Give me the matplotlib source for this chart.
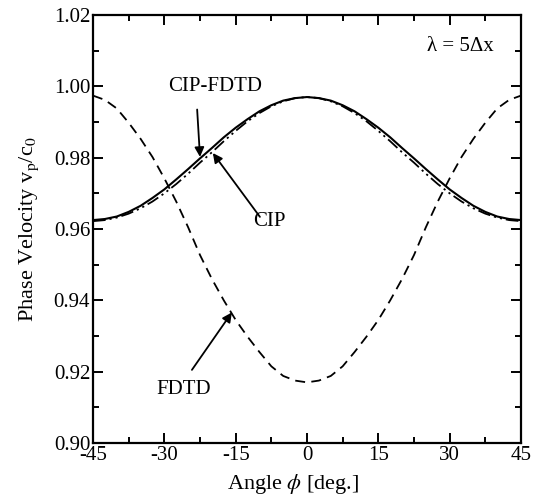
import matplotlib
matplotlib.use("Agg")
import matplotlib.pyplot as plt
from matplotlib.ticker import MultipleLocator

plt.rcParams['font.family'] = ['Liberation Serif', 'DejaVu Serif']
plt.rcParams['mathtext.fontset'] = 'stix'

# Data
angle = [-45, -42.5, -40, -37.5, -35, -32.5, -30, -27.5, -25, -22.5, -20, -17.5, -15, -12.5,
         -10, -7.5, -5, -2.5, 0, 2.5, 5, 7.5, 10, 12.5, 15, 17.5, 20, 22.5, 25, 27.5, 30,
         32.5, 35, 37.5, 40, 42.5, 45]
cip_fdtd = [0.9625, 0.9628, 0.9635, 0.9648, 0.9665, 0.9687, 0.9711, 0.9739, 0.9768, 0.9798,
            0.9827, 0.9857, 0.9884, 0.9908, 0.9930, 0.9947, 0.9960, 0.9967, 0.9970,
            0.9967, 0.9960, 0.9947, 0.9930, 0.9908, 0.9884, 0.9857, 0.9827, 0.9798,
            0.9768, 0.9739, 0.9711, 0.9687, 0.9665, 0.9648, 0.9635, 0.9628, 0.9625]
cip = [0.9622, 0.9625, 0.9632, 0.9643, 0.9658, 0.9677, 0.9700, 0.9726, 0.9755, 0.9786,
       0.9815, 0.9846, 0.9875, 0.9902, 0.9925, 0.9944, 0.9958, 0.9967, 0.9970,
       0.9967, 0.9958, 0.9944, 0.9925, 0.9902, 0.9875, 0.9846, 0.9815, 0.9786,
       0.9755, 0.9726, 0.9700, 0.9677, 0.9658, 0.9643, 0.9632, 0.9625, 0.9622]
fdtd = [0.9974, 0.9962, 0.9938, 0.9898, 0.9853, 0.9802, 0.9742, 0.9677, 0.9605, 0.9527,
        0.9460, 0.9400, 0.9345, 0.9298, 0.9255, 0.9215, 0.9188, 0.9175, 0.9170,
        0.9175, 0.9188, 0.9215, 0.9255, 0.9298, 0.9345, 0.9400, 0.9460, 0.9527,
        0.9605, 0.9677, 0.9742, 0.9802, 0.9853, 0.9898, 0.9938, 0.9962, 0.9974]

xticks = [-45, -30, -15, 0, 15, 30, 45]
yticks = [0.90, 0.92, 0.94, 0.96, 0.98, 1.00, 1.02]

fig = plt.figure(figsize=(5.56, 4.97), dpi=100)
ax = fig.add_axes([93/556, 54/497, 428/556, 428/497])

ax.plot(angle, cip_fdtd, color='black', lw=1.5, ls='-')
ax.plot(angle, cip, color='black', lw=1.3, ls=(0, (7, 2.2, 1.2, 2.2, 1.2, 2.2)))
ax.plot(angle, fdtd, color='black', lw=1.3, ls=(0, (5.5, 3.5)))

ax.set_xlim(-45, 45)
ax.set_ylim(0.90, 1.02)
ax.set_xticks(xticks)
ax.set_xticklabels([str(v) for v in xticks])
ax.set_yticks(yticks)
ax.set_yticklabels(['%.2f' % v for v in yticks])
ax.xaxis.set_minor_locator(MultipleLocator(7.5))
ax.yaxis.set_minor_locator(MultipleLocator(0.01))
ax.tick_params(which='both', direction='in', top=True, right=True, width=1.4,
               labelsize=15, pad=2)
ax.tick_params(which='major', length=7.5)
ax.tick_params(which='minor', length=4)
for s in ax.spines.values():
    s.set_linewidth(1.6)

ax.set_xlabel(r'Angle $\phi$ [deg.]', fontsize=16, labelpad=5)
ax.xaxis.label.set_x(0.468)
ax.set_ylabel(r'Phase Velocity v$_\mathrm{p}$/c$_\mathrm{0}$', fontsize=16, labelpad=9)

arrow = dict(arrowstyle='-|>', color='black', lw=1.3, mutation_scale=14, shrinkA=0, shrinkB=0)
ax.text(-19.3, 1.0000, 'CIP-FDTD', ha='center', va='center', fontsize=15)
ax.annotate('', xy=(-22.5, 0.9802), xytext=(-23.1, 0.9935), arrowprops=arrow)
ax.text(-8.0, 0.9620, 'CIP', ha='center', va='center', fontsize=15)
ax.annotate('', xy=(-19.8, 0.9813), xytext=(-9.9, 0.9634), arrowprops=arrow)
ax.text(-25.9, 0.9150, 'FDTD', ha='center', va='center', fontsize=15)
ax.annotate('', xy=(-15.8, 0.9366), xytext=(-24.2, 0.9205), arrowprops=arrow)
ax.text(39.2, 1.0113, 'λ = 5Δx', ha='right', va='center', fontsize=15)

fig.savefig('out.png', dpi=100)
